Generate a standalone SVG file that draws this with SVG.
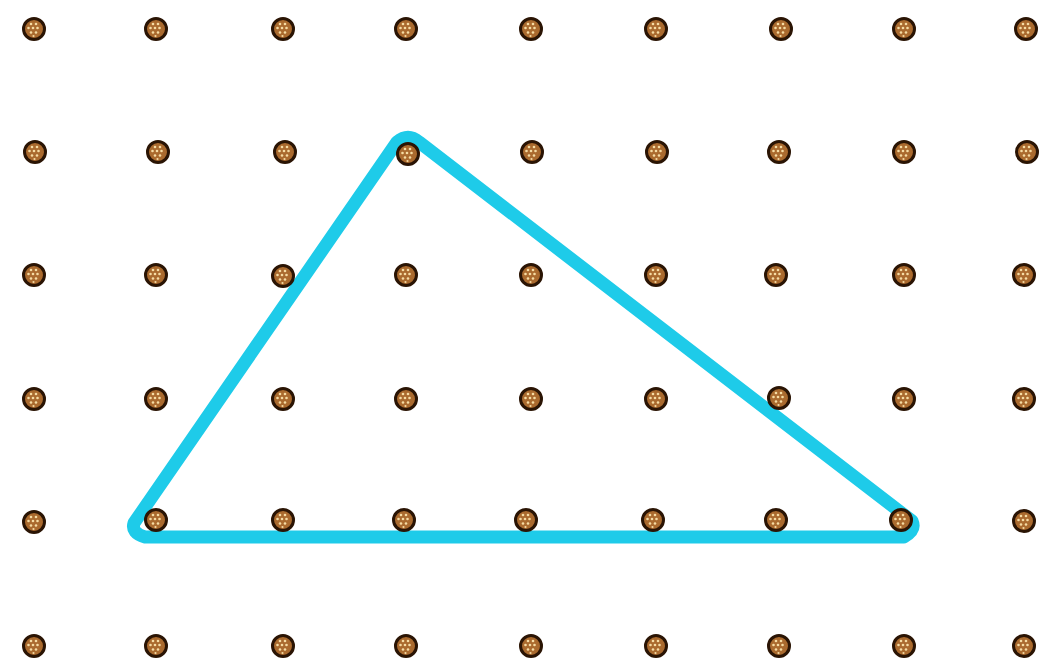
<svg xmlns="http://www.w3.org/2000/svg" xmlns:xlink="http://www.w3.org/1999/xlink" width="1058" height="666" viewBox="0 0 1058 666">
  <defs>
    <style>
      .peg-body { fill: #aa6a2e; stroke: #2a1404; stroke-width: 3; }
      .peg-spot { fill: #f6dca4; }
      .tri { fill: none; stroke: #1ecbe9; stroke-width: 13; stroke-linejoin: round; stroke-linecap: round; }
    </style>
    <symbol id="peg" viewBox="-12 -12 24 24" overflow="visible">
      <circle class="peg-body" r="10.5"/>
      <circle class="peg-spot" cx="-3" cy="-5" r="1.3"/>
      <circle class="peg-spot" cx="2" cy="-5" r="1.3"/>
      <circle class="peg-spot" cx="-5.5" cy="-1" r="1.3"/>
      <circle class="peg-spot" cx="-1" cy="-1" r="1.3"/>
      <circle class="peg-spot" cx="3.5" cy="-1" r="1.3"/>
      <circle class="peg-spot" cx="-3" cy="3.5" r="1.3"/>
      <circle class="peg-spot" cx="2" cy="3.5" r="1.3"/>
      <circle class="peg-spot" cx="-0.5" cy="7" r="1.1"/>
    </symbol>
  </defs>
  <rect width="1058" height="666" fill="#ffffff"/>
  <g id="connectors">
    <path id="triangle" class="tri" d="M 397 142 Q 408 133 419 142 L 912 521 Q 916 530 904 537 L 145 537 Q 131 533 134 523 Z"/>
  </g>
  <g id="pegs">
    <g id="row0">
      <use href="#peg" x="22" y="17" width="24" height="24"/>
      <use href="#peg" x="144" y="17" width="24" height="24"/>
      <use href="#peg" x="271" y="17" width="24" height="24"/>
      <use href="#peg" x="394" y="17" width="24" height="24"/>
      <use href="#peg" x="519" y="17" width="24" height="24"/>
      <use href="#peg" x="644" y="17" width="24" height="24"/>
      <use href="#peg" x="769" y="17" width="24" height="24"/>
      <use href="#peg" x="892" y="17" width="24" height="24"/>
      <use href="#peg" x="1014" y="17" width="24" height="24"/>
    </g>
    <g id="row1">
      <use href="#peg" x="23" y="140" width="24" height="24"/>
      <use href="#peg" x="146" y="140" width="24" height="24"/>
      <use href="#peg" x="273" y="140" width="24" height="24"/>
      <use href="#peg" x="396" y="142" width="24" height="24"/>
      <use href="#peg" x="520" y="140" width="24" height="24"/>
      <use href="#peg" x="645" y="140" width="24" height="24"/>
      <use href="#peg" x="767" y="140" width="24" height="24"/>
      <use href="#peg" x="892" y="140" width="24" height="24"/>
      <use href="#peg" x="1015" y="140" width="24" height="24"/>
    </g>
    <g id="row2">
      <use href="#peg" x="22" y="263" width="24" height="24"/>
      <use href="#peg" x="144" y="263" width="24" height="24"/>
      <use href="#peg" x="271" y="264" width="24" height="24"/>
      <use href="#peg" x="394" y="263" width="24" height="24"/>
      <use href="#peg" x="519" y="263" width="24" height="24"/>
      <use href="#peg" x="644" y="263" width="24" height="24"/>
      <use href="#peg" x="764" y="263" width="24" height="24"/>
      <use href="#peg" x="892" y="263" width="24" height="24"/>
      <use href="#peg" x="1012" y="263" width="24" height="24"/>
    </g>
    <g id="row3">
      <use href="#peg" x="22" y="387" width="24" height="24"/>
      <use href="#peg" x="144" y="387" width="24" height="24"/>
      <use href="#peg" x="271" y="387" width="24" height="24"/>
      <use href="#peg" x="394" y="387" width="24" height="24"/>
      <use href="#peg" x="519" y="387" width="24" height="24"/>
      <use href="#peg" x="644" y="387" width="24" height="24"/>
      <use href="#peg" x="767" y="386" width="24" height="24"/>
      <use href="#peg" x="892" y="387" width="24" height="24"/>
      <use href="#peg" x="1012" y="387" width="24" height="24"/>
    </g>
    <g id="row4">
      <use href="#peg" x="22" y="510" width="24" height="24"/>
      <use href="#peg" x="144" y="508" width="24" height="24"/>
      <use href="#peg" x="271" y="508" width="24" height="24"/>
      <use href="#peg" x="392" y="508" width="24" height="24"/>
      <use href="#peg" x="514" y="508" width="24" height="24"/>
      <use href="#peg" x="641" y="508" width="24" height="24"/>
      <use href="#peg" x="764" y="508" width="24" height="24"/>
      <use href="#peg" x="889" y="508" width="24" height="24"/>
      <use href="#peg" x="1012" y="509" width="24" height="24"/>
    </g>
    <g id="row5">
      <use href="#peg" x="22" y="634" width="24" height="24"/>
      <use href="#peg" x="144" y="634" width="24" height="24"/>
      <use href="#peg" x="271" y="634" width="24" height="24"/>
      <use href="#peg" x="394" y="634" width="24" height="24"/>
      <use href="#peg" x="519" y="634" width="24" height="24"/>
      <use href="#peg" x="644" y="634" width="24" height="24"/>
      <use href="#peg" x="767" y="634" width="24" height="24"/>
      <use href="#peg" x="892" y="634" width="24" height="24"/>
      <use href="#peg" x="1012" y="634" width="24" height="24"/>
    </g>
  </g>
</svg>
